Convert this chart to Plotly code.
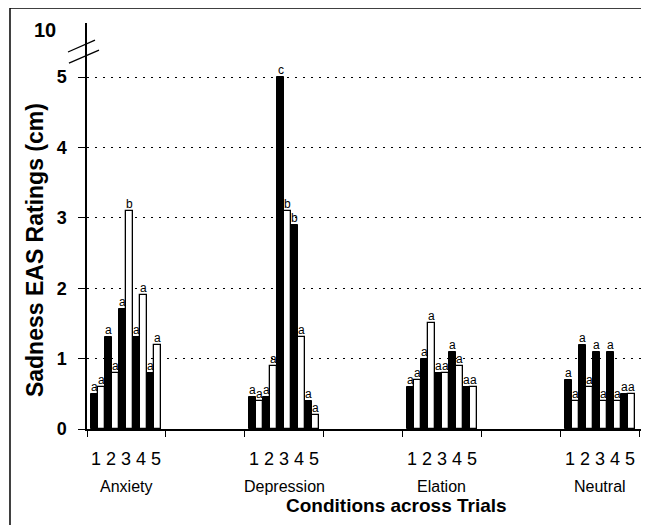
import plotly.graph_objects as go

# ---- data ----
conditions = ["Anxiety", "Depression", "Elation", "Neutral"]
condition_slots = [0, 2, 4, 6]
trials = ["1", "2", "3", "4", "5"]

black_vals = {
    "Anxiety":    [0.5, 1.3, 1.7, 1.3, 0.8],
    "Depression": [0.45, 0.45, 5.0, 2.9, 0.4],
    "Elation":    [0.6, 1.0, 0.8, 1.1, 0.6],
    "Neutral":    [0.7, 1.2, 1.1, 1.1, 0.5],
}
white_vals = {
    "Anxiety":    [0.6, 0.8, 3.1, 1.9, 1.2],
    "Depression": [0.4, 0.9, 3.1, 1.3, 0.2],
    "Elation":    [0.7, 1.5, 0.8, 0.9, 0.6],
    "Neutral":    [0.4, 0.6, 0.4, 0.4, 0.5],
}
black_letters = {
    "Anxiety":    ["a", "a", "a", "a", "a"],
    "Depression": ["a", "a", "c", "b", "a"],
    "Elation":    ["a", "a", "a", "a", "a"],
    "Neutral":    ["a", "a", "a", "a", "a"],
}
white_letters = {
    "Anxiety":    ["a", "a", "b", "a", "a"],
    "Depression": ["a", "a", "b", "a", "a"],
    "Elation":    ["a", "a", "a", "a", "a"],
    "Neutral":    ["a", "a", "a", "a", "a"],
}
y_tick_vals = [0, 1, 2, 3, 4, 5]
y_tick_text = ["0", "1", "2", "3", "4", "5"]
top_label = "10"
top_label_pos = 5.667

# ---- styling / geometry ----
FONT = "Arial, Liberation Sans, sans-serif"
BW = 0.0888
OFF = (1 - 10 * BW) / 2

fig = go.Figure()

bx, by, wx, wy = [], [], [], []
ann = []
for cond, slot in zip(conditions, condition_slots):
    for t in range(5):
        xb = slot + OFF + (2 * t + 0.5) * BW
        xw = slot + OFF + (2 * t + 1.5) * BW
        bx.append(xb); by.append(black_vals[cond][t])
        wx.append(xw); wy.append(white_vals[cond][t])
        ann.append((xb, black_vals[cond][t], black_letters[cond][t]))
        ann.append((xw, white_vals[cond][t], white_letters[cond][t]))

fig.add_trace(go.Bar(x=bx, y=by, width=BW, marker=dict(color="black", line=dict(color="black", width=1)),
                     showlegend=False, hoverinfo="skip"))
fig.add_trace(go.Bar(x=wx, y=wy, width=BW, marker=dict(color="white", line=dict(color="black", width=1.3)),
                     showlegend=False, hoverinfo="skip"))

annotations = []
for x, y, txt in ann:
    annotations.append(dict(x=x, y=y, xref="x", yref="y", text=txt, showarrow=False,
                            yanchor="bottom", yshift=-2,
                            font=dict(family=FONT, size=12, color="black")))

for cond, slot in zip(conditions, condition_slots):
    annotations.append(dict(x=slot + 0.5, y=0, xref="x", yref="paper", text=" ".join(trials),
                            showarrow=False, yanchor="middle", yshift=-30,
                            font=dict(family=FONT, size=18, color="black")))
    annotations.append(dict(x=slot + 0.5, y=0, xref="x", yref="paper", text=cond,
                            showarrow=False, yanchor="middle", yshift=-57,
                            font=dict(family=FONT, size=16, color="black")))

annotations.append(dict(x=0.554, y=0, xref="paper", yref="paper", text="<b>Conditions across Trials</b>",
                        showarrow=False, yanchor="middle", yshift=-76,
                        font=dict(family=FONT, size=19, color="black")))
annotations.append(dict(x=-0.093, y=0.441, xref="paper", yref="paper", text="<b>Sadness EAS Ratings (cm)</b>",
                        showarrow=False, textangle=-90, xanchor="center", yanchor="middle",
                        font=dict(family=FONT, size=23, color="black")))
annotations.append(dict(x=-0.052, y=top_label_pos, xref="paper", yref="y", text="<b>" + top_label + "</b>",
                        showarrow=False, xanchor="right", yanchor="middle",
                        font=dict(family=FONT, size=20, color="black")))

shapes = [
    # axis break marks
    dict(type="line", xref="paper", yref="paper", x0=-0.034, y0=0.9286, x1=0.0143, y1=0.958,
         line=dict(color="black", width=1.3)),
    dict(type="line", xref="paper", yref="paper", x0=-0.0323, y0=0.901, x1=0.0215, y1=0.933,
         line=dict(color="black", width=1.3)),
    # outer frame
    dict(type="line", xref="paper", yref="paper", x0=-0.138, y0=1.037, x1=1.2, y1=1.037,
         line=dict(color="black", width=1.5)),
    dict(type="line", xref="paper", yref="paper", x0=-0.138, y0=1.037, x1=-0.138, y1=-0.4,
         line=dict(color="black", width=1.5)),
]

# the page body adds an 8px margin, so the figure is 8px smaller and margins shifted
fig.update_layout(
    width=641, height=517,
    margin=dict(l=79, r=4, t=15, b=96, pad=0),
    paper_bgcolor="white", plot_bgcolor="white",
    bargap=0, barmode="overlay",
    annotations=annotations, shapes=shapes,
    font=dict(family=FONT, color="black"),
    xaxis=dict(range=[0, 7.076], tickvals=list(range(8)), showticklabels=False,
               ticks="outside", ticklen=6, tickcolor="black", tickwidth=1.3,
               showline=True, linecolor="black", linewidth=1.5, showgrid=False, zeroline=False),
    yaxis=dict(range=[0, 5.767], tickvals=y_tick_vals, ticktext=["<b>%s</b>" % t for t in y_tick_text],
               tickfont=dict(family=FONT, size=18, color="black"),
               ticks="outside", ticklen=7, tickcolor="black", tickwidth=1.3, ticklabelstandoff=8,
               showline=True, linecolor="black", linewidth=1.5,
               showgrid=True, gridcolor="black", gridwidth=1, griddash="2px,6px", zeroline=False),
)

fig.write_html("out.html")
